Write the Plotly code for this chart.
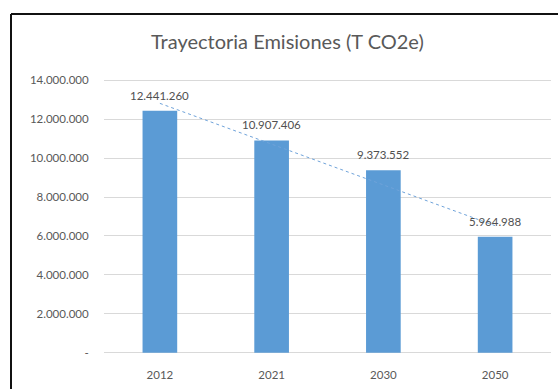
import numpy as np
import plotly.graph_objects as go

years = ["2012", "2021", "2030", "2050"]
emissions = [12441260, 10907406, 9373552, 5964988]
label_texts = ["12.441.260", "10.907.406", "9.373.552", "5.964.988"]
ytick_vals = [0, 2000000, 4000000, 6000000, 8000000, 10000000, 12000000, 14000000]
ytick_text = ["-", "2.000.000", "4.000.000", "6.000.000", "8.000.000",
              "10.000.000", "12.000.000", "14.000.000"]

# linear trendline (least squares over category index)
idx = np.arange(1, len(emissions) + 1)
slope, intercept = np.polyfit(idx, np.array(emissions, dtype=float), 1)
trend = [float(slope * i + intercept) for i in idx]

bar_color = "#5B9BD5"
text_color = "#595959"
font_family = "Lato, 'Open Sans', sans-serif"

fig = go.Figure()
fig.add_trace(go.Bar(
    x=years, y=emissions, marker=dict(color=bar_color, line=dict(width=0)),
    width=0.31, hoverinfo="skip", showlegend=False,
))
fig.add_trace(go.Scatter(
    x=years, y=trend, mode="lines",
    line=dict(color="#6FA3DA", width=1, dash="dot"),
    hoverinfo="skip", showlegend=False,
))

# data labels, placed at the category index of each bar
for i, (v, t) in enumerate(zip(emissions, label_texts)):
    fig.add_annotation(x=i, y=v, xref="x", yref="y", text=t, showarrow=False,
                       yanchor="bottom", xanchor="center", yshift=7,
                       font=dict(size=11.5, color="#505050", family=font_family))

L, R, T, B = 104, 7, 78, 34
W, H = 558, 389
pw, ph = W - L - R, H - T - B
bx = (11 - L) / pw
by = 1 + (T - 14) / ph

fig.add_shape(type="line", xref="paper", yref="paper", x0=bx, x1=1.2, y0=by, y1=by,
              line=dict(color="#111111", width=2))
fig.add_shape(type="line", xref="paper", yref="paper", x0=bx, x1=bx, y0=by, y1=-0.3,
              line=dict(color="#111111", width=2))

fig.update_layout(
    width=W, height=H,
    margin=dict(l=L, r=R, t=T, b=B),
    paper_bgcolor="white", plot_bgcolor="white",
    title=dict(text="Trayectoria Emisiones (T CO2e)", x=0.515, xanchor="center",
               y=1 - 42 / H, yanchor="middle",
               font=dict(size=20, color=text_color, family=font_family)),
    font=dict(family=font_family, color=text_color),
)
fig.update_xaxes(type="category", range=[-0.5, 3.5], showgrid=False, showline=False,
                 zeroline=False, ticks="outside", ticklen=9, tickcolor="rgba(0,0,0,0)",
                 tickfont=dict(size=11.5, color=text_color))
fig.update_yaxes(range=[-120000, 14120000], tickvals=ytick_vals, ticktext=ytick_text,
                 showgrid=True, gridcolor="#D9D9D9", gridwidth=1, zeroline=False,
                 showline=False, ticks="outside", ticklen=12, tickcolor="rgba(0,0,0,0)",
                 tickfont=dict(size=11.5, color=text_color))

fig.write_html("out.html")
